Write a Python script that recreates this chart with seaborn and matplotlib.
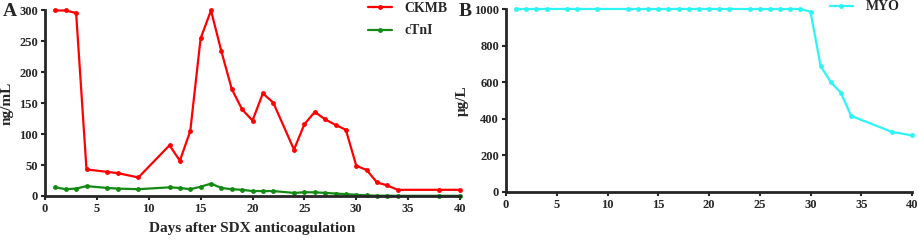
import matplotlib
matplotlib.use("Agg")
import matplotlib.pyplot as plt
import seaborn as sns
import pandas as pd

days_a = [1, 2, 3, 4, 6, 7, 9, 12, 13, 14, 15, 16, 17, 18, 19, 20, 21, 22, 24, 25,
          26, 27, 28, 29, 30, 31, 32, 33, 34, 38, 40]
ckmb = [300, 300, 296, 43, 39, 37, 30, 82, 57, 105, 255, 300, 234, 173, 140, 122, 166, 151, 75, 116,
        136, 124, 115, 107, 49, 42, 22, 17, 10, 10, 10]
ctni = [14, 11, 12, 16, 13, 12, 11, 14, 13, 11, 15, 20, 13, 11, 10, 8, 8, 8, 5, 6,
        6, 5, 4, 3, 2, 1, 0.5, 0.5, 0.3, 0.3, 0.3]
days_b = [1, 2, 3, 4, 6, 7, 9, 12, 13, 14, 15, 16, 17, 18, 19, 20, 21, 22, 24, 25,
          26, 27, 28, 29, 30, 31, 32, 33, 34, 38, 40]
myo = [1000, 1000, 1000, 1000, 1000, 1000, 1000, 1000, 1000, 1000, 1000, 1000, 1000, 1000, 1000, 1000,
       1000, 1000, 1000, 1000, 1000, 1000, 1000, 1000, 985, 688, 600, 542, 416, 329, 309]
x_ticks = [0, 5, 10, 15, 20, 25, 30, 35, 40]
ya_ticks = [0, 50, 100, 150, 200, 250, 300]
yb_ticks = [0, 200, 400, 600, 800, 1000]

sns.set_style("ticks")
plt.rcParams["font.family"] = ["Liberation Serif", "DejaVu Serif"]
plt.rcParams["font.weight"] = "bold"

df_a = pd.DataFrame({
    "day": days_a + days_a,
    "value": ckmb + ctni,
    "marker": ["CKMB"] * len(days_a) + ["cTnI"] * len(days_a),
})
df_b = pd.DataFrame({"day": days_b, "value": myo, "marker": ["MYO"] * len(days_b)})

fig = plt.figure(figsize=(9.2, 2.4), dpi=100)
ax1 = fig.add_axes([45 / 920, 1 - 196 / 240, 415 / 920, 185.5 / 240])
ax2 = fig.add_axes([506 / 920, 1 - 192 / 240, 406 / 920, 183 / 240])

sns.lineplot(data=df_a, x="day", y="value", hue="marker",
             palette={"CKMB": "#ff0000", "cTnI": "#138a13"},
             marker="o", markersize=3.5, markeredgewidth=0, linewidth=1.6, ax=ax1)
sns.lineplot(data=df_b, x="day", y="value", hue="marker",
             palette={"MYO": "#2ef5f5"},
             marker="o", markersize=3.5, markeredgewidth=0, linewidth=1.6, ax=ax2)

for ax, yt, ylab in [(ax1, ya_ticks, "ng/mL"), (ax2, yb_ticks, "μg/L")]:
    ax.set_xlim(0, 40)
    ax.set_ylim(0, yt[-1])
    ax.set_xticks(x_ticks)
    ax.set_yticks(yt)
    ax.tick_params(labelsize=9, width=1.5, length=3, pad=2)
    for lab in ax.get_xticklabels() + ax.get_yticklabels():
        lab.set_fontweight("bold")
    for s in ["top", "right"]:
        ax.spines[s].set_visible(False)
    for s in ["left", "bottom"]:
        ax.spines[s].set_linewidth(2)
        ax.spines[s].set_clip_on(False)
    ax.set_ylabel(ylab, fontsize=11, fontweight="bold", labelpad=4)
    for l in ax.get_lines():
        l.set_clip_on(False)

ax1.set_xlabel("Days after SDX anticoagulation", fontsize=11, fontweight="bold", labelpad=5)
ax2.set_xlabel("")

ax1.legend(loc="upper right", bbox_to_anchor=(1.0, 1.115), frameon=False,
           prop={"size": 10, "weight": "bold"}, handlelength=1.7, handletextpad=0.9,
           labelspacing=0.7, title=None)
ax2.legend(loc="upper right", bbox_to_anchor=(1.0, 1.115), frameon=False,
           prop={"size": 10, "weight": "bold"}, handlelength=1.7, handletextpad=0.9,
           title=None)

fig.text(3 / 920, 1 - 11 / 240, "A", fontsize=14, fontweight="bold", va="center", ha="left")
fig.text(459 / 920, 1 - 11 / 240, "B", fontsize=14, fontweight="bold", va="center", ha="left")

fig.savefig("out.png", dpi=100)
